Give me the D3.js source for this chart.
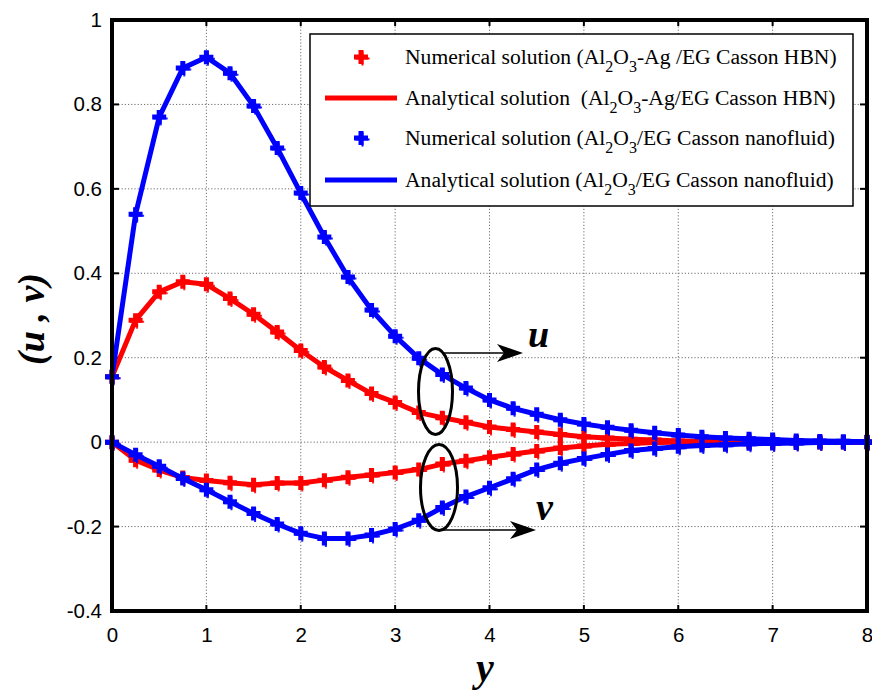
<!DOCTYPE html>
<html>
<head>
<meta charset="utf-8">
<script src="https://cdn.jsdelivr.net/npm/d3@7/dist/d3.min.js"></script>
<style>
  html, body { margin: 0; padding: 0; background: #fff; }
  svg { display: block; }
</style>
</head>
<body>
<svg id="chart" width="872" height="692"></svg>
<script>
// ---------------- DATA ----------------
const etaValues = [0, 0.25, 0.5, 0.75, 1, 1.25, 1.5, 1.75, 2, 2.25, 2.5, 2.75, 3, 3.25, 3.5, 3.75,
                   4, 4.25, 4.5, 4.75, 5, 5.25, 5.5, 5.75, 6, 6.25, 6.5, 6.75, 7, 7.25, 7.5, 7.75, 8];

// u, Al2O3-Ag/EG Casson HBN (red)
const uHBN = [0.155, 0.289, 0.356, 0.380, 0.374, 0.340, 0.303, 0.261, 0.217, 0.178, 0.146, 0.115, 0.094,
              0.070, 0.058, 0.047, 0.036, 0.030, 0.024, 0.018, 0.013, 0.010, 0.007, 0.005, 0.003,
              0.002, 0.001, 0.001, 0.000, 0.000, 0.000, 0.000, 0.000];
// v, Al2O3-Ag/EG Casson HBN (red)
const vHBN = [0.000, -0.043, -0.066, -0.084, -0.091, -0.096, -0.101, -0.097, -0.097, -0.090, -0.083, -0.078, -0.072,
              -0.065, -0.052, -0.044, -0.036, -0.028, -0.021, -0.014, -0.009, -0.005, -0.003, -0.001, 0.000,
              0.000, 0.000, 0.000, 0.000, 0.000, 0.000, 0.000, 0.000];
// u, Al2O3/EG Casson nanofluid (blue)
const uNF = [0.155, 0.540, 0.770, 0.886, 0.912, 0.874, 0.796, 0.697, 0.590, 0.486, 0.391, 0.313, 0.251,
             0.199, 0.160, 0.128, 0.100, 0.080, 0.066, 0.053, 0.043, 0.035, 0.028, 0.022, 0.017,
             0.013, 0.010, 0.008, 0.006, 0.004, 0.003, 0.002, 0.001];
// v, Al2O3/EG Casson nanofluid (blue)
const vNF = [0.000, -0.030, -0.057, -0.086, -0.113, -0.141, -0.169, -0.194, -0.216, -0.228, -0.228, -0.220, -0.206,
             -0.185, -0.155, -0.129, -0.108, -0.087, -0.065, -0.050, -0.039, -0.029, -0.020, -0.015, -0.011,
             -0.008, -0.006, -0.004, -0.003, -0.002, -0.001, -0.001, 0.000];

const xTicks = [0, 1, 2, 3, 4, 5, 6, 7, 8];
const yTicks = [-0.4, -0.2, 0, 0.2, 0.4, 0.6, 0.8, 1];
const yTickLabels = ["-0.4", "-0.2", "0", "0.2", "0.4", "0.6", "0.8", "1"];

const legendItems = [
  { kind: "marker", color: "#ff0000", parts: ["Numerical solution (Al", "2", "O", "3", "-Ag /EG Casson HBN)"] },
  { kind: "line",   color: "#ff0000", parts: ["Analytical solution\u00a0 (Al", "2", "O", "3", "-Ag/EG Casson HBN)"] },
  { kind: "marker", color: "#0000ff", parts: ["Numerical solution (Al", "2", "O", "3", "/EG Casson nanofluid)"] },
  { kind: "line",   color: "#0000ff", parts: ["Analytical solution (Al", "2", "O", "3", "/EG Casson nanofluid)"] }
];

// ---------------- LAYOUT ----------------
const svg = d3.select("#chart");
const L = 112, R = 867, T = 20, B = 611;
const x = d3.scaleLinear().domain([0, 8]).range([L, R]);
const y = d3.scaleLinear().domain([-0.4, 1]).range([B, T]);

// grid
const grid = svg.append("g");
grid.selectAll("line.gx").data(xTicks.slice(1, -1)).enter().append("line")
  .attr("x1", d => x(d)).attr("x2", d => x(d)).attr("y1", T).attr("y2", B)
  .attr("stroke", "#6e6e6e").attr("stroke-width", 1).attr("stroke-dasharray", "1.2,2");
grid.selectAll("line.gy").data(yTicks.slice(1, -1)).enter().append("line")
  .attr("y1", d => y(d)).attr("y2", d => y(d)).attr("x1", L).attr("x2", R)
  .attr("stroke", "#6e6e6e").attr("stroke-width", 1).attr("stroke-dasharray", "1.2,2");

// axes (tick labels via d3 axis)
const axB = d3.axisBottom(x).tickValues(xTicks).tickFormat(d3.format("d")).tickSize(0).tickPadding(16);
const gB = svg.append("g").attr("transform", `translate(0,${B})`).call(axB);
const axLf = d3.axisLeft(y).tickValues(yTicks)
  .tickFormat((d, i) => yTickLabels[i]).tickSize(0).tickPadding(10);
const gL = svg.append("g").attr("transform", `translate(${L},0)`).call(axLf);
[gB, gL].forEach(g => {
  g.select(".domain").remove();
  g.selectAll("text").attr("font-family", "'Liberation Sans', Arial, sans-serif")
    .attr("font-size", 20.5).attr("fill", "#000");
});

// inward ticks
const tk = svg.append("g").attr("stroke", "#000").attr("stroke-width", 2);
yTicks.forEach(v => {
  tk.append("line").attr("x1", L).attr("x2", L + 7).attr("y1", y(v)).attr("y2", y(v));
  tk.append("line").attr("x1", R).attr("x2", R - 7).attr("y1", y(v)).attr("y2", y(v));
});
xTicks.forEach(v => {
  tk.append("line").attr("x1", x(v)).attr("x2", x(v)).attr("y1", B).attr("y2", B - 6);
  tk.append("line").attr("x1", x(v)).attr("x2", x(v)).attr("y1", T).attr("y2", T + 6);
});

// ---------------- SERIES ----------------
const series = [
  { vals: uHBN, color: "#ff0000" },
  { vals: vHBN, color: "#ff0000" },
  { vals: uNF, color: "#0000ff" },
  { vals: vNF, color: "#0000ff" }
];
const lineGen = d3.line().x((d, i) => x(etaValues[i])).y(d => y(d));
const plusPath = "M-7,0H7M0,-7V7";
const plotG = svg.append("g");
series.forEach(s => {
  plotG.append("path").datum(s.vals).attr("d", lineGen)
    .attr("fill", "none").attr("stroke", s.color).attr("stroke-width", 5)
    .attr("stroke-linejoin", "round");
  plotG.selectAll(null).data(s.vals).enter().append("path")
    .attr("transform", (d, i) => `translate(${x(etaValues[i]) + 1.5},${y(d) + 1.5})`)
    .attr("d", plusPath).attr("stroke", s.color).attr("stroke-width", 2).attr("fill", "none").attr("opacity", 0.85);
  plotG.selectAll(null).data(s.vals).enter().append("path")
    .attr("transform", (d, i) => `translate(${x(etaValues[i])},${y(d)})`)
    .attr("d", plusPath).attr("stroke", s.color).attr("stroke-width", 5).attr("fill", "none");
});

// frame
svg.append("rect").attr("x", L).attr("y", T).attr("width", R - L).attr("height", B - T)
  .attr("fill", "none").attr("stroke", "#000").attr("stroke-width", 4);

// ---------------- ANNOTATIONS ----------------
const ann = svg.append("g");
ann.append("ellipse").attr("cx", 435.5).attr("cy", 391.5).attr("rx", 17).attr("ry", 43)
  .attr("fill", "none").attr("stroke", "#000").attr("stroke-width", 3);
ann.append("ellipse").attr("cx", 439).attr("cy", 487.5).attr("rx", 18.5).attr("ry", 43)
  .attr("fill", "none").attr("stroke", "#000").attr("stroke-width", 3);
function arrow(x0, x1, yy) {
  ann.append("line").attr("x1", x0).attr("x2", x1 - 6).attr("y1", yy).attr("y2", yy)
    .attr("stroke", "#000").attr("stroke-width", 1.5);
  ann.append("path")
    .attr("d", `M${x1},${yy}L${x1 - 26},${yy - 9}L${x1 - 19},${yy}L${x1 - 26},${yy + 9}Z`)
    .attr("fill", "#000");
}
arrow(443, 523, 353);
arrow(443, 536, 530);
const bigFont = "'Liberation Serif', 'Times New Roman', serif";
ann.append("text").attr("x", 528).attr("y", 347).text("u")
  .attr("font-family", bigFont).attr("font-style", "italic").attr("font-weight", "bold").attr("font-size", 38);
ann.append("text").attr("x", 536).attr("y", 520).text("v")
  .attr("font-family", bigFont).attr("font-style", "italic").attr("font-weight", "bold").attr("font-size", 38);

// axis titles
svg.append("text").attr("transform", "translate(44,319) rotate(-90)").attr("text-anchor", "middle")
  .attr("font-family", bigFont).attr("font-style", "italic").attr("font-weight", "bold").attr("font-size", 38)
  .text("(u , v)");
svg.append("text").attr("x", 485).attr("y", 681).attr("text-anchor", "middle")
  .attr("font-family", bigFont).attr("font-style", "italic").attr("font-weight", "bold").attr("font-size", 40)
  .text("y");

// ---------------- LEGEND ----------------
const lg = svg.append("g");
lg.append("rect").attr("x", 310).attr("y", 34).attr("width", 543).attr("height", 172)
  .attr("fill", "#fff").attr("stroke", "#000").attr("stroke-width", 1.5);
const rowY = [57, 98, 138, 180];
legendItems.forEach((it, i) => {
  const yy = rowY[i];
  if (it.kind === "line") {
    lg.append("line").attr("x1", 325).attr("x2", 397).attr("y1", yy).attr("y2", yy)
      .attr("stroke", it.color).attr("stroke-width", 5);
  } else {
    lg.append("path").attr("transform", `translate(${362.5},${yy + 1.5})`).attr("d", plusPath)
      .attr("stroke", it.color).attr("stroke-width", 2).attr("fill", "none");
    lg.append("path").attr("transform", `translate(${361},${yy})`).attr("d", plusPath)
      .attr("stroke", it.color).attr("stroke-width", 5).attr("fill", "none");
  }
  const t = lg.append("text").attr("x", 405).attr("y", yy + 7)
    .attr("font-family", bigFont).attr("font-size", 21.6).attr("fill", "#000");
  it.parts.forEach((p, k) => {
    const sub = (k === 1 || k === 3);
    const ts = t.append("tspan").text(p);
    if (sub) ts.attr("font-size", 16).attr("dy", 8);
    else if (k > 0) ts.attr("dy", -8);
  });
});
</script>
</body>
</html>
